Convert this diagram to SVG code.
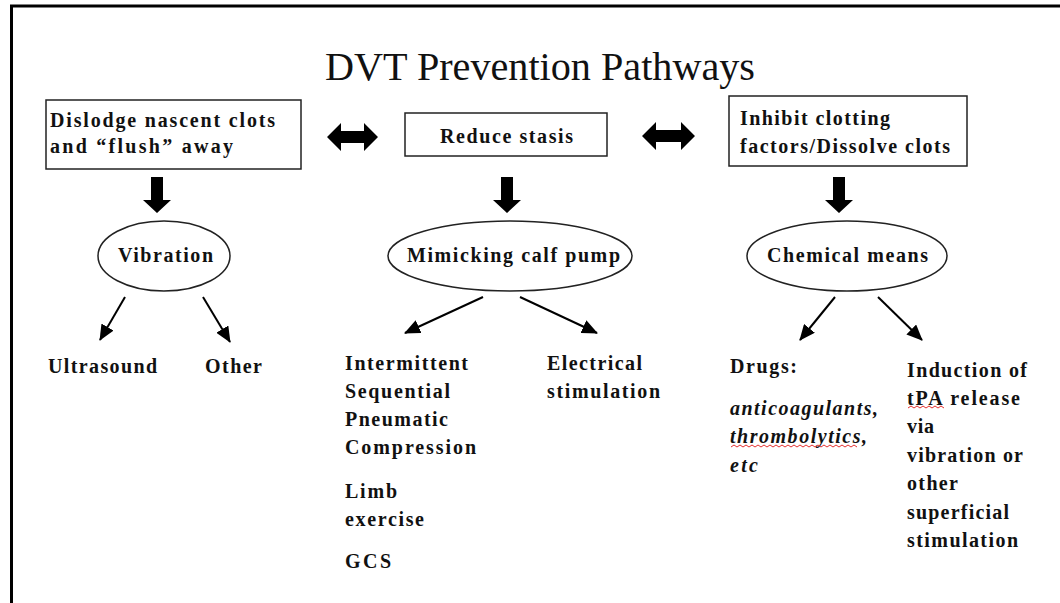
<svg xmlns="http://www.w3.org/2000/svg" width="1060" height="603" viewBox="0 0 1060 603">
  <style>
    .t { font-family: "Liberation Serif", Tinos, "Times New Roman", Times, "DejaVu Serif", serif; font-weight: bold; font-size: 20px; fill: #111; }
    .it { font-style: italic; }
    .title { font-family: "Liberation Serif", Tinos, "Times New Roman", Times, "DejaVu Serif", serif; font-size: 40px; fill: #111; }
    .box { fill: #fff; stroke: #222; stroke-width: 1.5; }
    .ell { fill: #fff; stroke: #222; stroke-width: 1.5; }
    .thick { fill: #000; }
    .thin { stroke: #000; stroke-width: 2; fill: none; marker-end: url(#ah); }
    .sq { fill: none; stroke: #e53030; stroke-width: 1; }
  </style>
  <defs>
    <marker id="ah" markerUnits="userSpaceOnUse" markerWidth="16" markerHeight="14" refX="15" refY="7" orient="auto">
      <path d="M0,0 L16,7 L0,14 Z" fill="#000"/>
    </marker>
  </defs>
  <rect width="1060" height="603" fill="#fff"/>
  <path d="M11.5,603 V6 H1060" fill="none" stroke="#000" stroke-width="3"/>

  <text class="title" x="540" y="80" text-anchor="middle" textLength="430" lengthAdjust="spacingAndGlyphs">DVT Prevention Pathways</text>

  <g id="box-dislodge">
    <rect class="box" x="46" y="100" width="255" height="69"/>
    <text class="t" x="50" y="127" textLength="225">Dislodge nascent clots</text>
    <text class="t" x="50" y="153" textLength="183">and “flush” away</text>
  </g>
  <g id="box-reduce">
    <rect class="box" x="405" y="113" width="202" height="43"/>
    <text class="t" x="440" y="143" textLength="133">Reduce stasis</text>
  </g>
  <g id="box-inhibit">
    <rect class="box" x="729" y="96" width="238" height="70"/>
    <text class="t" x="740" y="125" textLength="150">Inhibit clotting</text>
    <text class="t" x="740" y="153" textLength="210">factors/Dissolve clots</text>
  </g>

  <g id="ell-vibration">
    <ellipse class="ell" cx="164" cy="256" rx="66" ry="35"/>
    <text class="t" x="118" y="262" textLength="95">Vibration</text>
  </g>
  <g id="ell-calf">
    <ellipse class="ell" cx="510" cy="256" rx="122" ry="35"/>
    <text class="t" x="407" y="262" textLength="213">Mimicking calf pump</text>
  </g>
  <g id="ell-chemical">
    <ellipse class="ell" cx="847" cy="256" rx="100" ry="35"/>
    <text class="t" x="767" y="262" textLength="161">Chemical means</text>
  </g>

  <g id="leaf-ultrasound"><text class="t" x="48" y="373" textLength="109">Ultrasound</text></g>
  <g id="leaf-other"><text class="t" x="205" y="373" textLength="57">Other</text></g>
  <g id="leaf-ispc">
    <text class="t" x="345" y="370" textLength="123">Intermittent</text>
    <text class="t" x="345" y="398" textLength="105">Sequential</text>
    <text class="t" x="345" y="426" textLength="103">Pneumatic</text>
    <text class="t" x="345" y="454" textLength="131">Compression</text>
  </g>
  <g id="leaf-limb">
    <text class="t" x="345" y="498" textLength="52">Limb</text>
    <text class="t" x="345" y="526" textLength="79">exercise</text>
  </g>
  <g id="leaf-gcs"><text class="t" x="345" y="568" textLength="46">GCS</text></g>
  <g id="leaf-electrical">
    <text class="t" x="547" y="370" textLength="95">Electrical</text>
    <text class="t" x="547" y="398" textLength="113">stimulation</text>
  </g>
  <g id="leaf-drugs">
    <text class="t" x="730" y="373" textLength="67">Drugs:</text>
    <text class="t it" x="730" y="415" textLength="148">anticoagulants,</text>
    <text class="t it" x="730" y="443" textLength="137">thrombolytics,</text>
    <text class="t it" x="730" y="472" textLength="28">etc</text>
    <path class="sq" d="M731,447 l3,-2 l3,2 l3,-2 l3,2 l3,-2 l3,2 l3,-2 l3,2 l3,-2 l3,2 l3,-2 l3,2 l3,-2 l3,2 l3,-2 l3,2 l3,-2 l3,2 l3,-2 l3,2 l3,-2 l3,2 l3,-2 l3,2 l3,-2 l3,2 l3,-2 l3,2 l3,-2 l3,2 l3,-2 l3,2 l3,-2 l3,2 l3,-2 l3,2 l3,-2 l3,2 l3,-2 l3,2 l3,-2 l3,2"/>
  </g>
  <g id="leaf-induction">
    <text class="t" x="907" y="377" textLength="120">Induction of</text>
    <text class="t" x="907" y="405" textLength="113">tPA release</text>
    <text class="t" x="907" y="433" textLength="27">via</text>
    <text class="t" x="907" y="462" textLength="116">vibration or</text>
    <text class="t" x="907" y="490" textLength="51">other</text>
    <text class="t" x="907" y="519" textLength="102">superficial</text>
    <text class="t" x="907" y="547" textLength="111">stimulation</text>
    <path class="sq" d="M908,408 l3,-2 l3,2 l3,-2 l3,2 l3,-2 l3,2 l3,-2 l3,2 l3,-2 l3,2 l3,-2 l3,2"/>
  </g>

  <g id="connectors">
    <polygon class="thick" points="327,137 341,123 341,131 364,131 364,123 378,137 364,151 364,143 341,143 341,151"/>
    <polygon class="thick" points="642,136 656,122 656,130 681,130 681,122 695,136 681,150 681,142 656,142 656,150"/>
    <polygon class="thick" points="151,177 163,177 163,200 171,200 157,213 143,200 151,200"/>
    <polygon class="thick" points="501,177 513,177 513,200 521,200 507,213 493,200 501,200"/>
    <polygon class="thick" points="833,177 845,177 845,200 853,200 839,213 825,200 833,200"/>
    <line class="thin" x1="125" y1="297" x2="100" y2="340"/>
    <line class="thin" x1="203" y1="297" x2="230" y2="342"/>
    <line class="thin" x1="483" y1="297" x2="405" y2="333"/>
    <line class="thin" x1="520" y1="297" x2="597" y2="333"/>
    <line class="thin" x1="835" y1="297" x2="800" y2="340"/>
    <line class="thin" x1="878" y1="297" x2="922" y2="340"/>
  </g>
</svg>
